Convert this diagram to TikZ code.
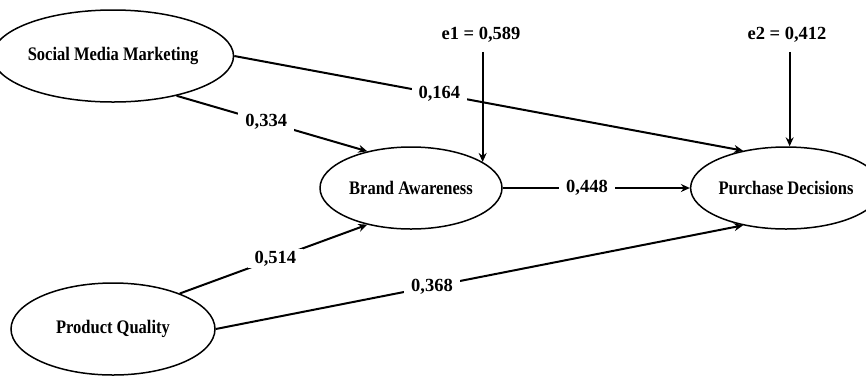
\documentclass[tikz,border=0pt]{standalone}
\usepackage{fontspec}
\usepackage{graphicx}
\setmainfont{Liberation Serif}
\usetikzlibrary{arrows.meta,shapes.geometric}
\newcommand{\tallt}[1]{\scalebox{1}[1.16]{#1}}
\begin{document}
\begin{tikzpicture}[x=1pt,y=-1pt,
  latent/.style={ellipse,draw,line width=1.5pt,inner sep=0pt,font=\bfseries\fontsize{16.5}{18}\selectfont},
  coef/.style={fill=white,inner xsep=7pt,inner ysep=2pt,font=\bfseries\fontsize{18.5}{20}\selectfont},
  err/.style={inner sep=1pt,font=\bfseries\fontsize{18.5}{20}\selectfont},
  path/.style={line width=2pt,-{Stealth[length=9pt,width=8pt,inset=3pt]}}]
\useasboundingbox (0,0) rectangle (866,376);
\node[latent,minimum width=207pt,minimum height=92pt] (smm) at (113,56) {\tallt{Social Media Marketing}};
\node[latent,minimum width=182pt,minimum height=82pt] (ba) at (411,188) {\tallt{Brand Awareness}};
\node[latent,minimum width=172pt,minimum height=82pt] (pd) at (786,188) {\tallt{Purchase Decisions}};
\node[latent,minimum width=204pt,minimum height=92pt] (pq) at (113,329) {\tallt{Product Quality}};
\node[err] (e1) at (481,35) {e1 = 0,589};
\node[err] (e2) at (787,35) {e2 = 0,412};
\draw[path] (smm.east) -- node[coef,pos=0.403] {0,164} (pd.139);
\draw[path] (smm.-32) -- node[coef,pos=0.47] {0,334} (ba.140);
\draw[path] (ba.east) -- node[coef,pos=0.45] {0,448} (pd.west);
\draw[path] (pq.28) -- node[coef,pos=0.51] {0,514} (ba.220);
\draw[path] (pq.east) -- node[coef,pos=0.41] {0,368} (pd.221);
\draw[path,shorten <=8pt] (e1.south -| ba.20) -- (ba.20);
\draw[path,shorten <=8pt] (e2.south -| pd.85) -- (pd.85);
\end{tikzpicture}
\end{document}
